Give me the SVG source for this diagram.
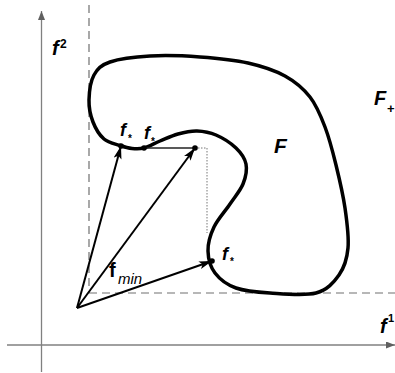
<svg xmlns="http://www.w3.org/2000/svg" width="395" height="373" viewBox="0 0 395 373">
<style>
.axis{stroke:#808080;stroke-width:1.3;fill:none}
.dash{stroke:#707070;stroke-width:1.2;fill:none;stroke-dasharray:8 5}
.vec{stroke:#000;stroke-width:2;fill:none}
.dot{fill:#000}
.bi{font-family:"Liberation Sans",Arial,sans-serif;font-weight:bold;font-style:italic;fill:#000}
.b{font-family:"Liberation Sans",Arial,sans-serif;font-weight:bold;fill:#000}
.i{font-family:"Liberation Sans",Arial,sans-serif;font-style:italic;fill:#000}
</style>
<defs>
<marker id="ah" markerUnits="userSpaceOnUse" markerWidth="14" markerHeight="10" refX="13" refY="4" orient="auto">
<path d="M0,0 L13,4 L0,8 L3,4 Z" fill="#000"/>
</marker>
<marker id="axh" markerUnits="userSpaceOnUse" markerWidth="10" markerHeight="8" refX="9" refY="3.5" orient="auto">
<path d="M0,0 L9,3.5 L0,7 Z" fill="#606060"/>
</marker>
</defs>
<g id="axes">
<line class="axis" x1="41.5" y1="372" x2="41.5" y2="11" marker-end="url(#axh)"/>
<line class="axis" x1="7" y1="345" x2="395" y2="345" marker-end="url(#axh)"/>
<text class="bi" x="52" y="55" font-size="20">f</text>
<text class="b" x="60" y="48" font-size="12">2</text>
<text class="bi" x="380" y="333" font-size="20">f</text>
<text class="b" x="388" y="322" font-size="11">1</text>
</g>
<g id="bounds">
<line class="dash" x1="89" y1="5" x2="89" y2="293"/>
<line class="dash" x1="89" y1="293" x2="395" y2="293"/>
</g>
<g id="region-F">
<path d="M89,100 C89.2,92.2 90.5,81.3 94,75 C97.5,68.7 100.7,65.2 110,62 C119.3,58.8 135,56.8 150,56 C165,55.2 183.7,55.8 200,57 C216.3,58.2 233.8,59.8 248,63 C262.2,66.2 274.7,70.3 285,76 C295.3,81.7 303.3,88.5 310,97 C316.7,105.5 320.7,115.7 325,127 C329.3,138.3 332.7,151.5 336,165 C339.3,178.5 343,194.2 345,208 C347,221.8 349,236.8 348,248 C347,259.2 344.3,267.5 339,275 C333.7,282.5 327.5,290 316,293 C304.5,296 283.3,293.8 270,293 C256.7,292.2 245.2,291.3 236,288 C226.8,284.7 219.7,279.2 215,273 C210.3,266.8 208.2,258.7 208,251 C207.8,243.3 210.3,234.8 214,227 C217.7,219.2 225.2,211.2 230,204 C234.8,196.8 240.3,190.7 243,184 C245.7,177.3 247.2,170 246,164 C244.8,158 241,152.8 236,148 C231,143.2 222.5,137.8 216,135 C209.5,132.2 203.3,131.2 197,131 C190.7,130.8 184.2,132.3 178,134 C171.8,135.7 165.7,138.7 160,141 C154.3,143.3 148.7,146.8 144,148 C139.3,149.2 136,148.9 132,148.5 C128,148.1 124.7,147.1 120,145.5 C115.3,143.9 108.5,142.9 104,139 C99.5,135.1 95.5,128.5 93,122 C90.5,115.5 88.8,107.8 89,100 Z" fill="none" stroke="#000" stroke-width="3.5"/>
<text class="bi" x="274" y="153" font-size="21">F</text>
</g>
<g id="region-Fplus">
<text class="bi" x="374" y="105" font-size="20">F</text>
<text class="b" x="387" y="113" font-size="13">+</text>
</g>
<g id="connectors">
<line x1="144" y1="148" x2="195" y2="148" stroke="#222" stroke-width="1.6"/>
<polyline points="195,148 207,148 207,233" fill="none" stroke="#777" stroke-width="1" stroke-dasharray="1.5 1.5"/>
<line class="vec" x1="77" y1="308" x2="121" y2="146" marker-end="url(#ah)"/>
<line class="vec" x1="77" y1="308" x2="195" y2="148" marker-end="url(#ah)"/>
<line class="vec" x1="77" y1="308" x2="212" y2="261" marker-end="url(#ah)"/>
</g>
<g id="points">
<circle class="dot" cx="121" cy="146" r="2.8"/>
<circle class="dot" cx="144" cy="148" r="2.8"/>
<circle class="dot" cx="195" cy="148" r="2.8"/>
<circle class="dot" cx="212" cy="261" r="2.8"/>
<text class="bi" x="120" y="136" font-size="18">f</text>
<text class="b" x="128" y="142" font-size="10">*</text>
<text class="bi" x="144" y="139" font-size="18">f</text>
<text class="b" x="151" y="145" font-size="10">*</text>
<text class="bi" x="222" y="260" font-size="18">f</text>
<text class="b" x="230" y="265" font-size="10">*</text>
<text class="b" x="109" y="277" font-size="20">f</text>
<text class="i" x="118" y="284" font-size="15">min</text>
</g>
</svg>
